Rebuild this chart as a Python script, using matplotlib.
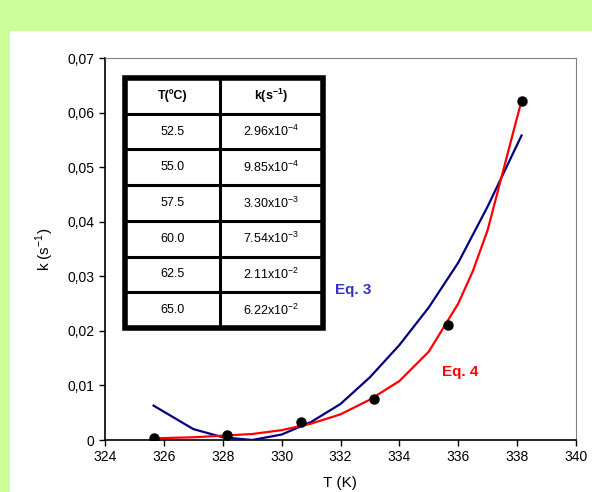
import matplotlib
matplotlib.use("Agg")
import matplotlib.pyplot as plt
from matplotlib.patches import Rectangle
from matplotlib.ticker import FuncFormatter

plt.rcParams['font.family'] = ['Liberation Sans', 'DejaVu Sans']
plt.rcParams['mathtext.fontset'] = 'custom'
plt.rcParams['mathtext.rm'] = 'Liberation Sans'
plt.rcParams['axes.unicode_minus'] = False

# Experimental data
temp_c = ["52.5", "55.0", "57.5", "60.0", "62.5", "65.0"]
k_labels = ["2.96x10$^{\\mathregular{-4}}$", "9.85x10$^{\\mathregular{-4}}$",
            "3.30x10$^{\\mathregular{-3}}$", "7.54x10$^{\\mathregular{-3}}$",
            "2.11x10$^{\\mathregular{-2}}$", "6.22x10$^{\\mathregular{-2}}$"]
T_exp = [325.65, 328.15, 330.65, 333.15, 335.65, 338.15]
k_exp = [2.96e-4, 9.85e-4, 3.30e-3, 7.54e-3, 2.11e-2, 6.22e-2]

# Eq. 3 (blue)
T_eq3 = [325.65, 327, 328, 329, 330, 331, 332, 333, 334, 335, 336, 337, 338.15]
k_eq3 = [0.0063, 0.0020, 0.0005, 0.0000, 0.0010, 0.0033, 0.0066, 0.0115,
         0.0174, 0.0243, 0.0325, 0.0428, 0.0558]

# Eq. 4 (red)
T_eq4 = [325.65, 327, 328, 329, 330, 331, 332, 333, 334, 335, 336, 336.5, 337, 338.15]
k_eq4 = [0.0003, 0.0005, 0.0008, 0.0011, 0.0018, 0.0030, 0.0047, 0.0074,
         0.0108, 0.0162, 0.0250, 0.0310, 0.0385, 0.0622]

x_ticks = [324, 326, 328, 330, 332, 334, 336, 338, 340]
y_ticks = [0, 0.01, 0.02, 0.03, 0.04, 0.05, 0.06, 0.07]

W, H = 592, 492
fig = plt.figure(figsize=(W / 100, H / 100), dpi=100)
fig.patch.set_facecolor('#CCFF99')

bg = fig.add_axes([10 / W, 0, 1 - 10 / W, (H - 31) / H], zorder=-5)
bg.set_facecolor('white')
bg.set_xticks([])
bg.set_yticks([])
for s in bg.spines.values():
    s.set_visible(False)

ax = fig.add_axes([105 / W, 1 - 440 / H, (576 - 105) / W, (440 - 58) / H], zorder=1)
ax.set_facecolor('white')
ax.plot(T_eq3, k_eq3, color='#000080', lw=1.6, zorder=3)
ax.plot(T_eq4, k_eq4, color='#FF0000', lw=1.6, zorder=3)
ax.plot(T_exp, k_exp, 'o', color='black', ms=6.5, zorder=4)

ax.set_xlim(324, 340)
ax.set_ylim(0, 0.07)
ax.set_xticks(x_ticks)
ax.set_yticks(y_ticks)
ax.yaxis.set_major_formatter(FuncFormatter(lambda v, p: "0" if abs(v) < 1e-12 else f"{v:.2f}".replace('.', ',')))
ax.tick_params(direction='out', length=4, labelsize=10, width=1)
for s in ['top', 'right']:
    ax.spines[s].set_color('#808080')
for s in ['left', 'bottom']:
    ax.spines[s].set_color('black')
    ax.spines[s].set_linewidth(1.2)

ax.text(331.8, 0.0275, "Eq. 3", color='#3333CC', fontsize=11, fontweight='bold', va='center')
ax.text(335.45, 0.0125, "Eq. 4", color='#FF0000', fontsize=11, fontweight='bold', va='center')

fig.text(45 / W, 1 - 249 / H, "k (s$^{\\mathregular{-1}}$)", rotation=90, fontsize=11,
         ha='center', va='center')
fig.text(340 / W, 2 / H, "T (K)", fontsize=11, ha='center', va='bottom')

# Inset table
tx0, tx1, ty0, ty1 = 125, 323, 78, 328
tab = fig.add_axes([tx0 / W, 1 - ty1 / H, (tx1 - tx0) / W, (ty1 - ty0) / H], zorder=2)
tab.set_xlim(0, 1)
tab.set_ylim(7, 0)
tab.axis('off')
tab.add_patch(Rectangle((0, 0), 1, 7, facecolor='white', edgecolor='none', zorder=0))
split = (220 - tx0) / (tx1 - tx0)
for r in range(1, 7):
    tab.plot([0, 1], [r, r], color='black', lw=2.2, solid_capstyle='butt', zorder=2)
tab.plot([split, split], [0, 7], color='black', lw=2.2, solid_capstyle='butt', zorder=2)
tab.add_patch(Rectangle((0, 0), 1, 7, facecolor='none', edgecolor='black', lw=4,
                        zorder=3, clip_on=False))
c1 = split / 2
c2 = (split + 1) / 2
tab.text(c1, 0.5, "T(ºC)", ha='center', va='center', fontsize=9, fontweight='bold')
tab.text(c2, 0.5, "k(s$^{\\mathregular{-1}}$)", ha='center', va='center', fontsize=9, fontweight='bold')
for i, (tc, kl) in enumerate(zip(temp_c, k_labels)):
    tab.text(c1, i + 1.5, tc, ha='center', va='center', fontsize=9)
    tab.text(c2, i + 1.5, kl, ha='center', va='center', fontsize=9)

fig.savefig('out.png', dpi=100, facecolor=fig.get_facecolor())
